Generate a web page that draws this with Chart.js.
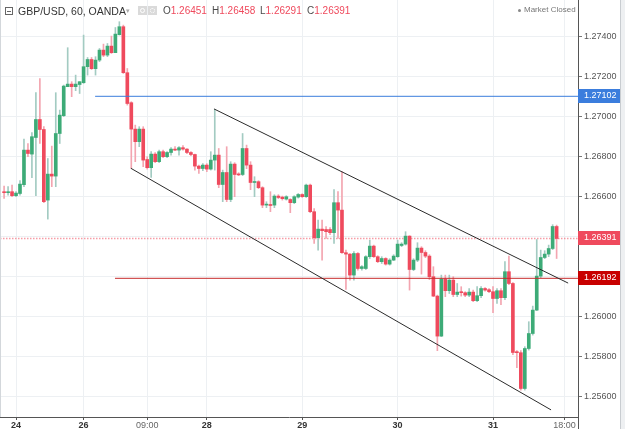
<!DOCTYPE html>
<html><head><meta charset="utf-8">
<script src="https://cdn.jsdelivr.net/npm/chart.js@4"></script>
<style>
html,body{margin:0;padding:0;background:#fff;}
#wrap{position:relative;width:625px;height:429px;overflow:hidden;font-family:"Liberation Sans",Arial,sans-serif;}
canvas{position:absolute;left:0;top:0;}
.a{position:absolute;white-space:nowrap;line-height:12px;}
.lbl{color:#4a4a4a;font-size:10px;top:5px;}
.red{color:#ef4a5d;}
</style></head><body>
<div id="wrap">
<canvas id="c" width="625" height="429"></canvas>
<div class="a" style="left:0;top:0;width:1px;height:417px;background:#d3d7db"></div>
<div class="a" style="left:620px;top:0;width:5px;height:429px;background:#eef0f2;border-left:1px solid #c9cdd1;box-sizing:border-box"></div>
<div class="a" style="left:5px;top:7px;width:6px;height:6px;border:1px solid #666;"><div style="position:absolute;left:1px;top:2.5px;width:4px;height:1px;background:#666"></div></div>
<div class="a" style="left:18px;top:5px;font-size:10.5px;color:#333;">GBP/USD, 60, OANDA</div>
<div class="a" style="left:126px;top:5px;font-size:7px;color:#aaa;">▾</div>
<div class="a" style="left:138px;top:6px;width:9px;height:9px;background:#dadada;"><div style="position:absolute;left:2px;top:2px;width:3px;height:3px;border:1px solid #fff;border-radius:50%"></div></div>
<div class="a" style="left:148px;top:6px;width:9px;height:9px;background:#dadada;"><div style="position:absolute;left:2px;top:2px;width:3px;height:3px;border:1px dotted #fff;border-radius:50%"></div></div>
<div class="a lbl" style="left:163px;">O<span class="red">1.26451</span></div>
<div class="a lbl" style="left:212px;">H<span class="red">1.26458</span></div>
<div class="a lbl" style="left:260px;">L<span class="red">1.26291</span></div>
<div class="a lbl" style="left:307px;">C<span class="red">1.26391</span></div>
<div class="a" style="left:518px;top:8.5px;width:3px;height:3px;border-radius:50%;background:#888"></div>
<div class="a" style="left:524px;top:4px;font-size:8px;color:#777;">Market Closed</div>
</div>
<script>
// ---- data (hourly candles) ----
const opens = [1.26625,1.26620,1.26625,1.26605,1.26616,1.26660,1.26833,1.26813,1.26896,1.26986,
1.26936,1.26583,1.26713,1.26703,1.26916,1.27005,1.27150,1.27163,1.27150,1.27161,
1.27170,1.27250,1.27286,1.27240,1.27283,1.27333,1.27308,1.27353,1.27320,1.27410,
1.27450,1.27220,1.27070,1.26938,1.26875,1.26938,1.26786,1.26745,1.26813,1.26775,
1.26825,1.26800,1.26821,1.26838,1.26833,1.26845,1.26838,1.26821,1.26811,1.26753,
1.26741,1.26758,1.26738,1.26783,1.26808,1.26661,1.26721,1.26586,1.26763,1.26713,
1.26711,1.26841,1.26758,1.26671,1.26675,1.26645,1.26558,1.26561,1.26558,1.26603,
1.26598,1.26588,1.26586,1.26570,1.26598,1.26611,1.26600,1.26658,1.26525,1.26395,
1.26438,1.26436,1.26436,1.26420,1.26570,1.26533,1.26320,1.26313,1.26208,1.26316,
1.26241,1.26241,1.26300,1.26353,1.26300,1.26275,1.26291,1.26263,1.26283,1.26300,
1.26356,1.26363,1.26403,1.26236,1.26283,1.26343,1.26321,1.26303,1.26200,1.26103,
1.25903,1.26188,1.26130,1.26183,1.26111,1.26123,1.26120,1.26108,1.26123,1.26080,
1.26105,1.26141,1.26135,1.26125,1.26091,1.26130,1.26095,1.26225,1.26166,1.25823,
1.25820,1.25641,1.25841,1.25916,1.26033,1.26203,1.26296,1.26313,1.26341,1.26451];
const highs = [1.26653,1.26650,1.26658,1.26625,1.26680,1.26888,1.26866,1.26921,1.27120,1.27191,
1.26950,1.26791,1.26853,1.27120,1.27033,1.27158,1.27345,1.27175,1.27208,1.27175,
1.27408,1.27296,1.27296,1.27300,1.27341,1.27363,1.27366,1.27403,1.27446,1.27475,
1.27458,1.27241,1.27075,1.26958,1.26950,1.26950,1.26800,1.26825,1.26821,1.26833,
1.26833,1.26825,1.26845,1.26850,1.26850,1.26855,1.26841,1.26825,1.26813,1.26758,
1.26766,1.26765,1.26825,1.27036,1.26841,1.26733,1.26850,1.26775,1.26770,1.26720,
1.26916,1.26858,1.26775,1.26700,1.26680,1.26650,1.26575,1.26625,1.26610,1.26610,
1.26603,1.26605,1.26590,1.26605,1.26616,1.26615,1.26663,1.26663,1.26541,1.26483,
1.26483,1.26450,1.26445,1.26636,1.26625,1.26725,1.26333,1.26316,1.26325,1.26320,
1.26255,1.26305,1.26383,1.26358,1.26305,1.26300,1.26295,1.26290,1.26310,1.26383,
1.26370,1.26425,1.26405,1.26290,1.26370,1.26350,1.26330,1.26310,1.26250,1.26108,
1.26208,1.26208,1.26208,1.26200,1.26166,1.26150,1.26125,1.26141,1.26133,1.26150,
1.26150,1.26145,1.26140,1.26150,1.26141,1.26140,1.26275,1.26303,1.26170,1.25830,
1.25830,1.25850,1.25975,1.26053,1.26386,1.26333,1.26330,1.26358,1.26460,1.26458];
const lows = [1.26591,1.26608,1.26600,1.26600,1.26608,1.26650,1.26800,1.26695,1.26605,1.26866,
1.26570,1.26488,1.26650,1.26650,1.26866,1.27000,1.27150,1.27100,1.27130,1.27116,
1.27166,1.27208,1.27236,1.27208,1.27275,1.27300,1.27300,1.27316,1.27320,1.27408,
1.27216,1.27058,1.26741,1.26775,1.26850,1.26750,1.26738,1.26696,1.26770,1.26770,
1.26795,1.26795,1.26808,1.26830,1.26808,1.26833,1.26815,1.26805,1.26733,1.26716,
1.26730,1.26725,1.26733,1.26733,1.26645,1.26575,1.26575,1.26575,1.26600,1.26705,
1.26705,1.26740,1.26635,1.26600,1.26640,1.26545,1.26545,1.26525,1.26545,1.26590,
1.26583,1.26583,1.26520,1.26565,1.26593,1.26596,1.26596,1.26520,1.26366,1.26333,
1.26283,1.26391,1.26410,1.26366,1.26391,1.26316,1.26136,1.26183,1.26183,1.26233,
1.26233,1.26236,1.26291,1.26296,1.26270,1.26266,1.26258,1.26258,1.26280,1.26296,
1.26350,1.26358,1.26133,1.26230,1.26275,1.26213,1.26295,1.26185,1.26100,1.25830,
1.25900,1.26100,1.26116,1.26100,1.26100,1.26103,1.26100,1.26100,1.26075,1.26075,
1.26095,1.26128,1.26120,1.26020,1.26066,1.26060,1.26085,1.26160,1.25810,1.25745,
1.25633,1.25633,1.25833,1.25908,1.26030,1.26195,1.26290,1.26300,1.26335,1.26291];
const closes = [1.26620,1.26625,1.26605,1.26618,1.26663,1.26833,1.26816,1.26900,1.26986,1.26936,
1.26575,1.26713,1.26703,1.26916,1.27008,1.27153,1.27163,1.27150,1.27163,1.27175,
1.27250,1.27286,1.27240,1.27283,1.27333,1.27308,1.27353,1.27320,1.27413,1.27450,
1.27220,1.27066,1.26938,1.26875,1.26938,1.26783,1.26745,1.26813,1.26775,1.26825,
1.26800,1.26821,1.26838,1.26833,1.26845,1.26838,1.26821,1.26811,1.26753,1.26741,
1.26758,1.26738,1.26783,1.26808,1.26661,1.26721,1.26586,1.26763,1.26711,1.26709,
1.26841,1.26758,1.26671,1.26675,1.26645,1.26558,1.26561,1.26556,1.26603,1.26596,
1.26590,1.26600,1.26570,1.26600,1.26611,1.26600,1.26658,1.26525,1.26395,1.26438,
1.26430,1.26425,1.26420,1.26570,1.26533,1.26320,1.26313,1.26208,1.26316,1.26241,
1.26250,1.26300,1.26353,1.26300,1.26275,1.26291,1.26263,1.26283,1.26303,1.26363,
1.26363,1.26403,1.26236,1.26283,1.26343,1.26321,1.26303,1.26200,1.26103,1.25903,
1.26188,1.26130,1.26183,1.26111,1.26123,1.26120,1.26108,1.26123,1.26080,1.26105,
1.26141,1.26133,1.26125,1.26091,1.26130,1.26095,1.26225,1.26166,1.25821,1.25820,
1.25641,1.25841,1.25916,1.26033,1.26203,1.26296,1.26313,1.26341,1.26451,1.26391];

const yTicks = [1.256,1.258,1.260,1.262,1.264,1.266,1.268,1.270,1.272,1.274];
const xTickPos = [3,20,36,51,75,99,123,141];
const xTickLabels = ['24','26','09:00','28','29','30','31','18:00'];
const xTickBold = [true,true,false,true,true,true,true,false];

const upperChannel = [[52.8,1.27039],[141.9,1.26168]];
const lowerChannel = [[31.9,1.26742],[137.6,1.25534]];
const blueLevel = [22.9,1.27102];
const redLevel = [27.9,1.26192];
const lastPrice = 1.26391;

const X_MIN=-1.03, X_MAX=144.38, Y_MIN=1.254985, Y_MAX=1.275835;
const UP='#3dab77', DN='#ef4a5d', UPW='#a3cbc2', DNW='#f3a5b0';
const FAM='"Liberation Sans", Arial, sans-serif';

const pts = a => a.map(p=>({x:p[0],y:p[1]}));
const datasets = [
 {type:'line', data:pts(upperChannel), borderColor:'#2b2b2b', borderWidth:1, pointRadius:0, order:0},
 {type:'line', data:pts(lowerChannel), borderColor:'#2b2b2b', borderWidth:1, pointRadius:0, order:0},
 {type:'line', data:[{x:blueLevel[0],y:blueLevel[1]},{x:X_MAX,y:blueLevel[1]}], borderColor:'#3b7ddd', borderWidth:1, pointRadius:0, order:0},
 {type:'line', data:[{x:redLevel[0],y:redLevel[1]},{x:X_MAX,y:redLevel[1]}], borderColor:'#c62a2a', borderWidth:1, pointRadius:0, order:0},
 {type:'line', data:[{x:X_MIN,y:lastPrice},{x:X_MAX,y:lastPrice}], borderColor:'rgba(239,74,93,0.55)', borderWidth:1.5, borderDash:[1.5,1.5], pointRadius:0, order:3},
 {type:'bar', data:opens.map((o,i)=>({x:i,y:[Math.min(o,closes[i]),Math.max(o,closes[i])]})),
   backgroundColor:opens.map((o,i)=>closes[i]>=o?UP:DN), barThickness:3, grouped:false, minBarLength:1, borderWidth:0, order:1},
 {type:'bar', data:lows.map((l,i)=>({x:i,y:[l,highs[i]]})),
   backgroundColor:opens.map((o,i)=>closes[i]>=o?UPW:DNW), barThickness:1, grouped:false, borderWidth:0, order:2}
];

const boxes = [
 {v:blueLevel[1], c:'#3b7ddd'},
 {v:lastPrice, c:'#ef4a5d'},
 {v:redLevel[1], c:'#c80000'}
];

const overlay = {
 id:'overlay',
 afterDraw(ch){
   const g=ch.ctx, ys=ch.scales.y, ca=ch.chartArea;
   g.save();
   g.strokeStyle='#555'; g.lineWidth=1;
   g.beginPath(); g.moveTo(Math.round(ca.right)+0.5, ca.bottom); g.lineTo(Math.round(ca.right)+0.5, 429); g.stroke();
   g.font='9px '+FAM; g.textBaseline='middle'; g.textAlign='left';
   boxes.forEach(b=>{
     const y=ys.getPixelForValue(b.v);
     g.fillStyle=b.c; g.fillRect(ca.right, Math.round(y)-7, 42, 14);
     g.fillStyle='#fff'; g.fillText(b.v.toFixed(5), ca.right+6, Math.round(y));
   });
   g.restore();
 }
};

new Chart(document.getElementById('c'), {
 type:'bar',
 data:{datasets},
 options:{
  responsive:false, animation:false, events:[], devicePixelRatio:1,
  layout:{padding:0},
  plugins:{legend:{display:false}, tooltip:{enabled:false}},
  scales:{
   x:{type:'linear', min:X_MIN, max:X_MAX, offset:false,
      grid:{color:'#edf0f3', offset:false, tickLength:3, tickColor:'#555'},
      border:{color:'#555'},
      afterBuildTicks:s=>{s.ticks=xTickPos.map(v=>({value:v}));},
      afterFit:s=>{s.height=12; s.paddingLeft=0; s.paddingRight=0;},
      ticks:{autoSkip:false, maxRotation:0, minRotation:0, padding:0,
        font:c=>({family:FAM, size:9, weight:xTickBold[c.index]?'bold':'normal'}),
        color:c=>xTickBold[c.index]?'#333':'#666',
        callback:(v,i)=>xTickLabels[i]}
   },
   y:{type:'linear', position:'right', min:Y_MIN, max:Y_MAX,
      grid:{color:'#edf0f3', tickLength:4, tickColor:'#777'},
      border:{color:'#555'},
      afterBuildTicks:s=>{s.ticks=yTicks.map(v=>({value:v}));},
      afterFit:s=>{s.width=47; s.paddingTop=0; s.paddingBottom=0;},
      ticks:{padding:2, font:{family:FAM, size:9}, color:'#555', callback:v=>Number(v).toFixed(5)}
   }
  }
 },
 plugins:[overlay]
});
</script>
</body></html>
